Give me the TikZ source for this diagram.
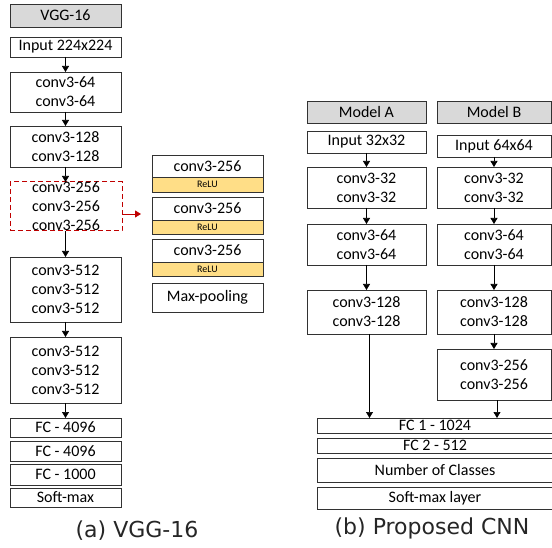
\documentclass[tikz,border=0pt]{standalone}
\usepackage{fontspec}
\setmainfont{Carlito}
\newfontfamily\capfont{DejaVu Sans}
\usetikzlibrary{arrows.meta}
\definecolor{boxgray}{RGB}{217,217,217}
\definecolor{reluyel}{RGB}{255,222,135}
\definecolor{dred}{RGB}{192,0,0}
\definecolor{edgecol}{RGB}{50,50,50}
\newcommand\bx[7]{\node[#6, minimum width={(#4-#2)*1pt}, minimum height={(#5-#3)*1pt}] (#1) at ({(#2+#4)/2},{(#3+#5)/2}) {#7};}
\tikzset{
  box/.style={draw=edgecol, line width=0.7pt, fill=white, inner sep=0pt, outer sep=0pt, align=center, font=\fontsize{16}{19}\selectfont},
  hdr/.style={box, fill=boxgray},
  relu/.style={box, fill=reluyel, font=\fontsize{10}{12}\selectfont},
  dbox/.style={box, draw=dred, dash pattern=on 5pt off 3pt, line width=1pt, fill=none},
  arr/.style={-{Triangle[length=6pt,width=7pt]}, line width=0.7pt, black},
  redarr/.style={-{Triangle[length=6pt,width=7pt]}, line width=0.8pt, dred},
  captxt/.style={inner sep=0pt, font=\capfont\fontsize{22}{26}\selectfont, text=black!85}
}
\begin{document}
\begin{tikzpicture}[x=1pt,y=-1pt]
\fill[white] (0,0) rectangle (552,548);
\useasboundingbox (0,0) rectangle (552,548);
% VGG-16 column
\bx{vgg}{10}{4}{121}{27}{hdr}{VGG-16}
\bx{in}{10}{37}{121}{57}{box}{Input 224x224}
\bx{c64}{10}{72}{121}{112}{box}{conv3-64\\conv3-64}
\bx{c128}{10}{126}{121}{167}{box}{conv3-128\\conv3-128}
\bx{c256}{10}{182}{122}{231}{dbox}{conv3-256\\conv3-256\\conv3-256}
\bx{c512a}{10}{257}{121}{322}{box}{conv3-512\\conv3-512\\conv3-512}
\bx{c512b}{10}{337}{121}{403}{box}{conv3-512\\conv3-512\\conv3-512}
\bx{fca}{10}{418}{121}{437}{box}{FC - 4096}
\bx{fcb}{10}{441}{121}{461}{box}{FC - 4096}
\bx{fcc}{10}{464}{121}{485}{box}{FC - 1000}
\bx{smv}{10}{488}{121}{507}{box}{Soft-max}
\draw[arr] (in) -- (c64);
\draw[arr] (c64) -- (c128);
\draw[arr] (c128.south) -- (c128.south |- c256.north);
\draw[arr] (c256.south -| c512a) -- (c512a.north);
\draw[arr] (c512a) -- (c512b);
\draw[arr] (c512b) -- (fca);
% expanded block
\bx{r1c}{152}{155}{263}{177}{box}{conv3-256}
\bx{r1r}{152}{177}{263}{192}{relu}{ReLU}
\bx{r2c}{152}{197}{263}{220}{box}{conv3-256}
\bx{r2r}{152}{220}{263}{234}{relu}{ReLU}
\bx{r3c}{152}{239}{263}{262}{box}{conv3-256}
\bx{r3r}{152}{262}{263}{276}{relu}{ReLU}
\bx{mp}{152}{283}{263}{312}{box}{Max-pooling}
\coordinate (rend) at (141,214);
\draw[redarr] (c256.east |- rend) -- (rend);
% Proposed CNN
\bx{ma}{307}{101}{426}{123}{hdr}{Model A}
\bx{mb}{437}{101}{551}{123}{hdr}{Model B}
\bx{ina}{307}{131}{426}{153}{box}{Input 32x32}
\bx{inb}{437}{135}{551}{157}{box}{Input 64x64}
\bx{a32}{307}{167}{426}{208}{box}{conv3-32\\conv3-32}
\bx{b32}{437}{167}{551}{208}{box}{conv3-32\\conv3-32}
\bx{a64}{307}{224}{426}{265}{box}{conv3-64\\conv3-64}
\bx{b64}{437}{224}{551}{265}{box}{conv3-64\\conv3-64}
\bx{a128}{307}{290}{426}{334}{box}{conv3-128\\conv3-128}
\bx{b128}{437}{290}{551}{334}{box}{conv3-128\\conv3-128}
\bx{b256}{437}{349}{551}{400}{box}{conv3-256\\conv3-256}
\bx{f1}{317}{418}{553}{433}{box}{FC 1 - 1024}
\bx{f2}{317}{438}{553}{453}{box}{FC 2 - 512}
\bx{ncls}{317}{458}{553}{482}{box}{Number of Classes}
\bx{smx}{317}{487}{553}{509}{box}{Soft-max layer}
\draw[arr] (ina) -- (a32);
\draw[arr] (a32) -- (a64);
\draw[arr] (a64) -- (a128);
\draw[arr] (inb) -- (b32);
\draw[arr] (b32) -- (b64);
\draw[arr] (b64) -- (b128);
\draw[arr] (b128) -- (b256);
\draw[arr] ([xshift=3pt]a128.south) -- ([xshift=3pt]a128.south |- f1.north);
\draw[arr] ([xshift=3pt]b256.south) -- ([xshift=3pt]b256.south |- f1.north);
% captions
\node[captxt] (capa) at (137,531) {(a) VGG-16};
\node[captxt] (capb) at (432,528) {(b) Proposed CNN};
\end{tikzpicture}
\end{document}
